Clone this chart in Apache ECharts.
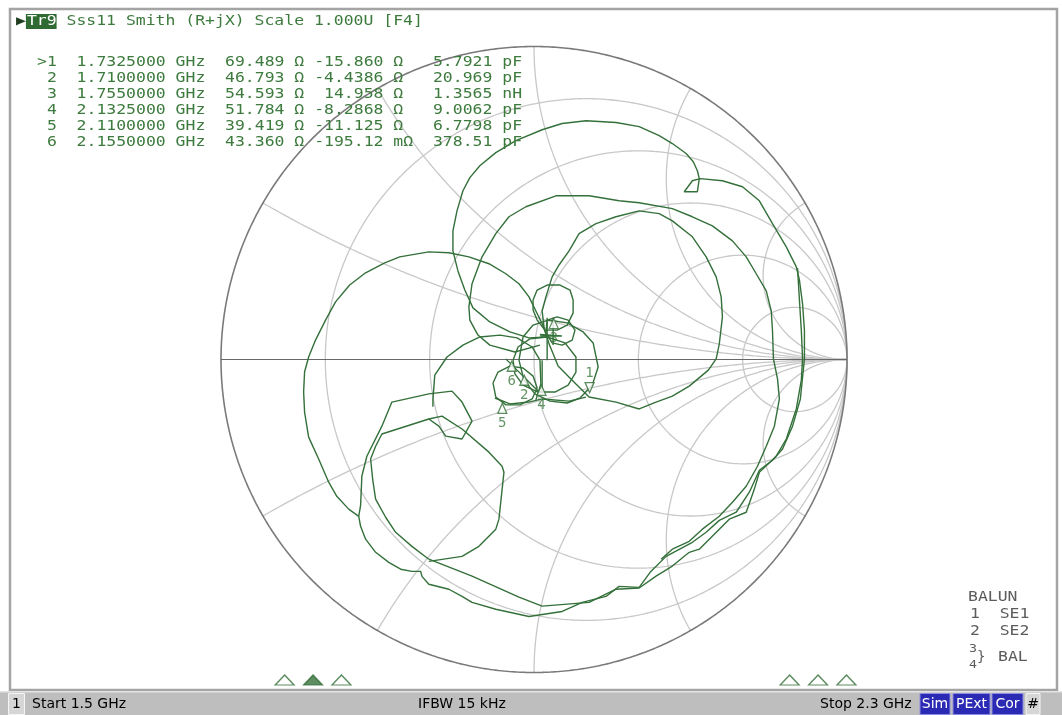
<!DOCTYPE html>
<html><head><meta charset="utf-8">
<script src="https://cdn.jsdelivr.net/npm/echarts@6/dist/echarts.min.js"></script>
<style>html,body{margin:0;padding:0;background:#fff;}#c{width:1062px;height:715px;}</style>
</head><body><div id="c"></div>
<script>
// ---------- data ----------
const resistanceCircles = [0.2, 0.5, 1, 2, 5];
const reactanceArcs = [0.268, 0.577, 1, 1.732, 3.732];
const markerNames = ['1', '2', '3', '4', '5', '6'];
const markerFreqGHz = [1.7325, 1.71, 1.755, 2.1325, 2.11, 2.155];
const markerR = [69.489, 46.793, 54.593, 51.784, 39.419, 43.360];
const markerX = [-15.860, -4.4386, 14.958, -8.2868, -11.125, -0.19512];
const markerRows = [
  '>1  1.7325000 GHz  69.489 Ω -15.860 Ω   5.7921 pF',
  ' 2  1.7100000 GHz  46.793 Ω -4.4386 Ω   20.969 pF',
  ' 3  1.7550000 GHz  54.593 Ω  14.958 Ω   1.3565 nH',
  ' 4  2.1325000 GHz  51.784 Ω -8.2868 Ω   9.0062 pF',
  ' 5  2.1100000 GHz  39.419 Ω -11.125 Ω   6.7798 pF',
  ' 6  2.1550000 GHz  43.360 Ω -195.12 mΩ  378.51 pF'
];
const activeMarker = '1';
const startLabel = 'Start 1.5 GHz', stopLabel = 'Stop 2.3 GHz', ifbwLabel = 'IFBW 15 kHz';

// trace segments as reflection coefficient [Re Γ, Im Γ]
const traceOuterA = [[0.042,0.072],[-0.016,0.069],[-0.077,0.088],[-0.141,0.120],[-0.195,0.165],[-0.221,0.222],[-0.243,0.283],[-0.259,0.347],[-0.259,0.411],[-0.246,0.475],[-0.227,0.539],[-0.205,0.581],[-0.173,0.619],[-0.122,0.661],[-0.058,0.699],[0.026,0.734],[0.090,0.754],[0.166,0.763],[0.262,0.757],[0.336,0.744],[0.400,0.715],[0.442,0.690],[0.486,0.658],[0.509,0.632],[0.522,0.603],[0.528,0.578],[0.522,0.536],[0.480,0.536],[0.506,0.571],[0.531,0.578],[0.602,0.571],[0.666,0.552],[0.720,0.507],[0.762,0.434],[0.806,0.360],[0.838,0.296],[0.848,0.254],[0.858,0.178],[0.864,0.094],[0.864,0.002],[0.851,-0.126],[0.826,-0.213],[0.794,-0.286],[0.762,-0.322],[0.720,-0.354],[0.688,-0.424],[0.646,-0.488],[0.592,-0.514],[0.550,-0.552],[0.506,-0.584],[0.422,-0.629],[0.371,-0.680],[0.336,-0.728]];
const traceOuterB = [[0.336,-0.728],[0.272,-0.725],[0.230,-0.757],[0.154,-0.776],[0.090,-0.805],[-0.016,-0.821],[-0.122,-0.798],[-0.198,-0.776],[-0.230,-0.757],[-0.272,-0.734],[-0.336,-0.718],[-0.358,-0.693],[-0.362,-0.677],[-0.390,-0.677],[-0.426,-0.670],[-0.464,-0.648],[-0.506,-0.616],[-0.538,-0.574],[-0.554,-0.533],[-0.560,-0.501],[-0.592,-0.478],[-0.630,-0.437],[-0.656,-0.392],[-0.688,-0.318],[-0.720,-0.248],[-0.733,-0.168],[-0.736,-0.104],[-0.733,-0.040],[-0.720,0.008],[-0.698,0.062],[-0.666,0.126],[-0.634,0.184],[-0.589,0.238],[-0.538,0.277],[-0.477,0.309],[-0.429,0.328],[-0.336,0.344],[-0.272,0.341],[-0.208,0.328],[-0.144,0.306],[-0.090,0.274],[-0.048,0.242],[-0.016,0.200],[0.006,0.155],[0.026,0.114],[0.042,0.072]];
const traceMidArc = [[0.019,0.046],[-0.061,0.024],[-0.141,0.046],[-0.179,0.078],[-0.205,0.126],[-0.208,0.168],[-0.198,0.242],[-0.166,0.328],[-0.122,0.402],[-0.080,0.456],[-0.026,0.488],[0.070,0.523],[0.176,0.523],[0.272,0.507],[0.336,0.501],[0.442,0.482],[0.506,0.456],[0.570,0.427],[0.634,0.379],[0.678,0.328],[0.710,0.274],[0.742,0.219],[0.758,0.155],[0.762,0.091],[0.765,0.002],[0.778,-0.062],[0.784,-0.126],[0.768,-0.213],[0.742,-0.277],[0.714,-0.341],[0.678,-0.405],[0.634,-0.456],[0.592,-0.501],[0.538,-0.542],[0.496,-0.581],[0.442,-0.606],[0.406,-0.638]];
const traceRightCircle = [[0.048,0.050],[0.032,0.104],[0.026,0.155],[0.038,0.200],[0.058,0.264],[0.080,0.302],[0.112,0.347],[0.144,0.402],[0.198,0.434],[0.262,0.456],[0.336,0.475],[0.400,0.466],[0.442,0.443],[0.506,0.392],[0.550,0.328],[0.582,0.264],[0.598,0.200],[0.602,0.136],[0.592,0.050],[0.582,0.002],[0.557,-0.034],[0.496,-0.085],[0.442,-0.117],[0.390,-0.136],[0.336,-0.158],[0.262,-0.136],[0.176,-0.120],[0.122,-0.066],[0.077,-0.021],[0.048,0.050]];
const traceLowerLeft = [[-0.560,-0.501],[-0.554,-0.466],[-0.550,-0.373],[-0.534,-0.309],[-0.486,-0.213],[-0.454,-0.136],[-0.336,-0.110],[-0.262,-0.101],[-0.230,-0.136],[-0.198,-0.197],[-0.230,-0.254],[-0.282,-0.245],[-0.304,-0.213],[-0.336,-0.190],[-0.486,-0.238],[-0.506,-0.277],[-0.522,-0.318],[-0.515,-0.386],[-0.506,-0.446],[-0.474,-0.504],[-0.442,-0.552],[-0.390,-0.597],[-0.336,-0.638]];
const traceInnerLoop = [[-0.336,-0.190],[-0.294,-0.181],[-0.230,-0.222],[-0.144,-0.296],[-0.102,-0.341],[-0.096,-0.360],[-0.112,-0.510],[-0.122,-0.542],[-0.176,-0.597],[-0.230,-0.629],[-0.336,-0.645]];
const traceLowerRight = [[-0.336,-0.638],[-0.198,-0.692],[-0.048,-0.759],[0.026,-0.788],[0.176,-0.776],[0.262,-0.734],[0.336,-0.730],[0.390,-0.692],[0.442,-0.660],[0.496,-0.616],[0.528,-0.606],[0.592,-0.542],[0.624,-0.510],[0.678,-0.488],[0.704,-0.414],[0.720,-0.360],[0.774,-0.309],[0.806,-0.254],[0.838,-0.158],[0.854,-0.066],[0.858,0.002],[0.854,0.094],[0.848,0.190],[0.842,0.292]];
const loopK1 = [[-0.003,0.190],[0.010,0.222],[0.042,0.238],[0.083,0.238],[0.115,0.222],[0.125,0.190],[0.125,0.149],[0.106,0.110],[0.074,0.094],[0.035,0.094],[0.010,0.126],[-0.003,0.158],[-0.003,0.190]];
const loopK2 = [[0.042,0.126],[0.074,0.136],[0.109,0.126],[0.131,0.094],[0.122,0.062],[0.090,0.046],[0.058,0.053],[0.038,0.085],[0.042,0.126]];
const loopK3 = [[-0.035,0.072],[-0.003,0.110],[0.045,0.126],[0.106,0.117],[0.157,0.088],[0.189,0.053],[0.205,-0.024],[0.186,-0.082],[0.147,-0.123],[0.106,-0.139],[0.051,-0.133],[0.003,-0.110],[-0.032,-0.066],[-0.048,-0.002],[-0.035,0.072]];
const loopK4 = [[-0.067,-0.002],[-0.051,0.040],[-0.013,0.066],[0.042,0.072],[0.099,0.053],[0.134,0.008],[0.134,-0.040],[0.109,-0.082],[0.067,-0.104],[0.013,-0.104],[-0.035,-0.082],[-0.061,-0.046],[-0.067,-0.002]];
const loopK5 = [[-0.131,-0.075],[-0.115,-0.040],[-0.077,-0.021],[-0.035,-0.027],[-0.003,-0.053],[0.010,-0.091],[-0.006,-0.126],[-0.045,-0.145],[-0.090,-0.145],[-0.122,-0.120],[-0.131,-0.075]];
const arcK6 = [[-0.323,-0.151],[-0.323,-0.129],[-0.317,-0.050],[-0.278,0.008],[-0.227,0.046],[-0.173,0.072],[-0.109,0.078],[-0.054,0.069],[-0.006,0.040],[0.019,-0.002],[0.022,-0.078],[0.006,-0.129]];
const clusterHashA = [[0.042,0.133],[0.042,-0.002]];
const clusterHashB = [[0.061,0.133],[0.061,0.046]];
const clusterHashC = [[0.019,0.075],[0.089,0.075],[0.089,0.080],[0.019,0.080]];
const clusterHashD = [[0.026,-0.002],[0.026,-0.107]];
const clusterBottom = [[-0.125,-0.123],[-0.077,-0.142],[-0.016,-0.136],[0.026,-0.126],[0.112,-0.133],[0.166,-0.120]];
const clusterDiagonal = [[-0.090,0.002],[0.016,-0.104]];

// ---------- helpers ----------
const Z0 = 50;
function gammaFromNorm(r, x) {
  const den = (r + 1) * (r + 1) + x * x;
  return [(r * r - 1 + x * x) / den, (2 * x) / den];
}
function gammaFromOhm(R, X) { return gammaFromNorm(R / Z0, X / Z0); }

function rCircle(r) {
  const pts = [[1, 0]];
  for (let i = 1; i < 720; i++) {
    const t = -Math.PI / 2 + Math.PI * i / 720;
    pts.push(gammaFromNorm(r, Math.tan(t)));
  }
  pts.push([1, 0]);
  return pts;
}
function xArc(x) {
  const pts = [];
  for (let i = 0; i < 400; i++) {
    const t = (Math.PI / 2) * i / 400;
    pts.push(gammaFromNorm(Math.tan(t), x));
  }
  pts.push([1, 0]);
  return pts;
}
function unitCircle() {
  const pts = [];
  for (let i = 0; i <= 720; i++) { const a = 2 * Math.PI * i / 720; pts.push([Math.cos(a), Math.sin(a)]); }
  return pts;
}

const GREEN = '#34703a';
const TEXTGREEN = '#3d7a3d';
const series = [];
function lineSeries(data, color, width, z) {
  return { type: 'line', xAxisIndex: 0, yAxisIndex: 0, data, showSymbol: false, symbol: 'none', silent: true,
    animation: false, lineStyle: { color, width }, z, clip: false };
}
resistanceCircles.forEach(r => series.push(lineSeries(rCircle(r), '#c8c8c8', 1.3, 1)));
reactanceArcs.forEach(x => { series.push(lineSeries(xArc(x), '#c8c8c8', 1.3, 1)); series.push(lineSeries(xArc(-x), '#c8c8c8', 1.3, 1)); });
series.push(lineSeries(unitCircle(), '#7a7a7a', 1.6, 2));
series.push(lineSeries([[-1, 0], [1, 0]], '#686868', 1.2, 2));
[traceOuterA, traceOuterB, traceMidArc, traceRightCircle, traceLowerLeft, traceInnerLoop, traceLowerRight,
 loopK1, loopK2, loopK3, loopK4, loopK5, arcK6, clusterHashA, clusterHashB, clusterHashC, clusterHashD,
 clusterBottom, clusterDiagonal].forEach(seg => series.push(lineSeries(seg, GREEN, 1.4, 3)));

// markers on Smith chart
const mk = markerNames.map((n, i) => { const g = gammaFromOhm(markerR[i], markerX[i]); return [g[0], g[1], n]; });
series.push({ type: 'scatter', xAxisIndex: 0, yAxisIndex: 0, z: 5, animation: false, silent: true,
  data: mk.filter(d => d[2] === activeMarker), symbol: 'triangle', symbolRotate: 180, symbolSize: [9, 10], symbolOffset: [0, -6],
  itemStyle: { color: '#fff', borderColor: GREEN, borderWidth: 1.3 },
  label: { show: true, position: 'top', distance: 2, formatter: p => p.data[2], color: TEXTGREEN, fontFamily: 'DejaVu Sans Mono', fontSize: 14 } });
series.push({ type: 'scatter', xAxisIndex: 0, yAxisIndex: 0, z: 5, animation: false, silent: true,
  data: mk.filter(d => d[2] !== activeMarker), symbol: 'triangle', symbolSize: [9, 10], symbolOffset: [0, 6],
  itemStyle: { color: '#fff', borderColor: GREEN, borderWidth: 1.3 },
  label: { show: true, position: 'bottom', distance: 2, formatter: p => p.data[2], color: TEXTGREEN, fontFamily: 'DejaVu Sans Mono', fontSize: 14 } });

// marker position indicators along frequency axis
series.push({ type: 'scatter', xAxisIndex: 1, yAxisIndex: 1, z: 5, animation: false, silent: true,
  data: markerFreqGHz.map((f, i) => ({ value: [f, 0.5], itemStyle: { color: markerNames[i] === activeMarker ? GREEN : '#fff' } })),
  symbol: 'triangle', symbolSize: [19, 10], itemStyle: { borderColor: GREEN, borderWidth: 1.3 } });

// ---------- graphic texts ----------
const ADV = 9.9, SX = ADV / 8.43;
const monoFont = '14px "DejaVu Sans Mono"';
function monoText(str, x, y, fill, extra) {
  return Object.assign({ type: 'text', x, y, scaleX: SX, z: 10, silent: true,
    style: { text: str, font: monoFont, fill, textAlign: 'left', textVerticalAlign: 'middle', align: 'left', verticalAlign: 'middle' } }, extra || {});
}
const graphics = [];
graphics.push({ type: 'rect', shape: { x: 10, y: 9, width: 1047, height: 681 }, style: { fill: 'none', stroke: '#a4a4a4', lineWidth: 2.5 }, z: 0, silent: true });
// header
const hx = 17, hy = 21;
graphics.push(monoText('▶', hx - 1, hy, '#1e3d1e'));
graphics.push({ type: 'rect', shape: { x: hx + ADV * 1 - 1, y: 14, width: ADV * 3 + 1, height: 15 }, style: { fill: '#2f6a33' }, z: 9, silent: true });
graphics.push(monoText('Tr9', hx + ADV * 1, hy, '#ffffff'));
graphics.push(monoText('Sss11 Smith (R+jX) Scale 1.000U [F4]', hx + ADV * 5, hy, TEXTGREEN));
markerRows.forEach((row, i) => graphics.push(monoText(row, 37, 62 + 16 * i, TEXTGREEN)));
// balun legend
const gray = '#5c5c5c';
graphics.push(monoText('BALUN', 968, 597, gray));
graphics.push(monoText('1  SE1', 970, 614, gray));
graphics.push(monoText('2  SE2', 970, 631, gray));
graphics.push(Object.assign(monoText('3', 969, 649, gray), { scaleX: 0.95, scaleY: 0.8 }));
graphics.push(Object.assign(monoText('4', 969, 665, gray), { scaleX: 0.95, scaleY: 0.8 }));
graphics.push(Object.assign(monoText('}', 977, 657, gray), { scaleX: 1, scaleY: 1.0 }));
graphics.push(monoText('BAL', 998, 657, gray));
// status bar
const sb = 692;
graphics.push({ type: 'rect', shape: { x: 0, y: sb, width: 1062, height: 23 }, style: { fill: '#bebebe' }, z: 1, silent: true });
graphics.push({ type: 'rect', shape: { x: 0, y: sb - 1, width: 1062, height: 1.5 }, style: { fill: '#e4e4e4' }, z: 1, silent: true });
graphics.push({ type: 'rect', shape: { x: 8.5, y: sb + 1.5, width: 16, height: 21 }, style: { fill: '#d6d6d6', stroke: '#f4f4f4', lineWidth: 1 }, z: 2, silent: true });
function sText(str, x, fill, align) {
  return { type: 'text', x, y: sb + 12, z: 3, silent: true,
    style: { text: str, font: '14px "DejaVu Sans"', fill, textAlign: align || 'left', textVerticalAlign: 'middle', align: align || 'left', verticalAlign: 'middle' } };
}
graphics.push(sText('1', 16.5, '#000', 'center'));
graphics.push(sText(startLabel, 32, '#000'));
graphics.push(sText(ifbwLabel, 418, '#000'));
graphics.push(sText(stopLabel, 820, '#000'));
[['Sim', 920, 30], ['PExt', 953, 37], ['Cor', 992, 31]].forEach(([t, x, w]) => {
  graphics.push({ type: 'rect', shape: { x, y: sb + 1.5, width: w, height: 21 }, style: { fill: '#2a2ab4', stroke: '#8c8ce0', lineWidth: 1 }, z: 2, silent: true });
  graphics.push(sText(t, x + w / 2, '#fff', 'center'));
});
graphics.push({ type: 'rect', shape: { x: 1026, y: sb + 1.5, width: 14, height: 21 }, style: { fill: '#d6d6d6', stroke: '#f4f4f4', lineWidth: 1 }, z: 2, silent: true });
graphics.push(sText('#', 1033, '#000', 'center'));

// ---------- chart ----------
const chart = echarts.init(document.getElementById('c'), null, { renderer: 'canvas' });
chart.setOption({
  backgroundColor: '#ffffff',
  animation: false,
  grid: [
    { left: 221, top: 46.5, width: 626, height: 626 },
    { left: 19.5, top: 670, width: 1010, height: 20 }
  ],
  xAxis: [
    { type: 'value', min: -1, max: 1, show: false, gridIndex: 0 },
    { type: 'value', min: 1.5, max: 2.3, show: false, gridIndex: 1 }
  ],
  yAxis: [
    { type: 'value', min: -1, max: 1, show: false, gridIndex: 0 },
    { type: 'value', min: 0, max: 1, show: false, gridIndex: 1 }
  ],
  series,
  graphic: { elements: graphics }
});
</script></body></html>
